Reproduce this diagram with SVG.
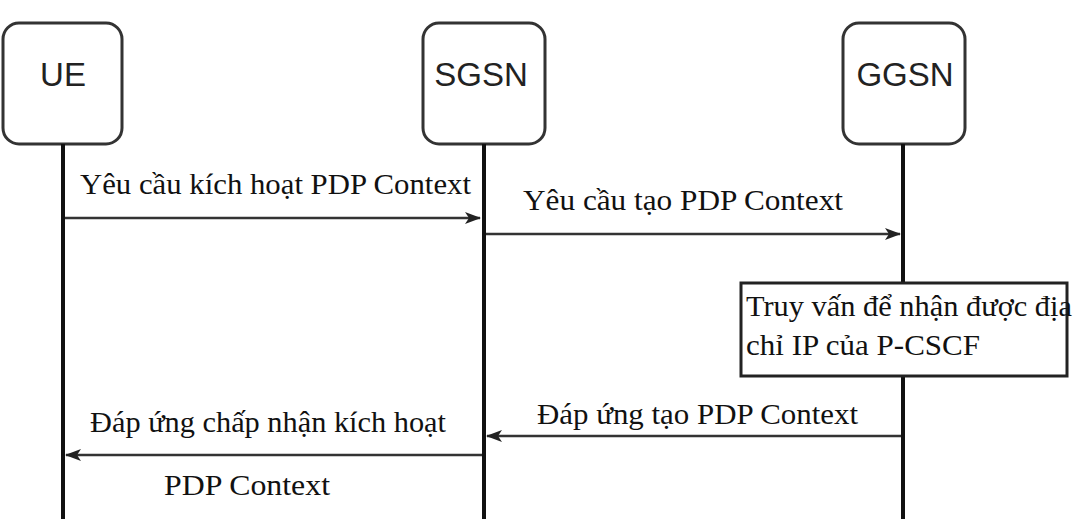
<svg xmlns="http://www.w3.org/2000/svg" width="1080" height="519" viewBox="0 0 1080 519">
<defs>
<style>
.node{fill:#fff;stroke:#333;stroke-width:3}
.lbl{font-family:"Liberation Sans",Arial,sans-serif;font-size:33px;fill:#222;text-anchor:middle}
.life{stroke:#111;stroke-width:4}
.msg{stroke:#333;stroke-width:2.5;fill:none}
.txt{font-family:"Liberation Serif","Times New Roman",serif;font-size:29px;fill:#111}
.note{fill:#fff;stroke:#222;stroke-width:3}
</style>
<marker id="arr" viewBox="0 0 16 12" refX="15" refY="6" markerWidth="16" markerHeight="12" markerUnits="userSpaceOnUse" orient="auto">
<path d="M0,0 L16,6 L0,12 L4,6 Z" fill="#222"/>
</marker>
</defs>
<rect width="1080" height="519" fill="#fff"/>
<g id="UE">
<rect class="node" x="3" y="23" width="119" height="121" rx="16"/>
<line class="life" x1="63" y1="144" x2="63" y2="519"/>
<text class="lbl" x="63" y="86">UE</text>
</g>
<g id="SGSN">
<rect class="node" x="423" y="23" width="122" height="121" rx="16"/>
<line class="life" x1="484" y1="144" x2="484" y2="519"/>
<text class="lbl" x="481" y="86">SGSN</text>
</g>
<g id="GGSN">
<rect class="node" x="843" y="23" width="122" height="121" rx="16"/>
<line class="life" x1="903" y1="144" x2="903" y2="519"/>
<text class="lbl" x="905" y="86">GGSN</text>
</g>
<g id="query">
<rect class="note" x="741" y="283" width="326" height="93"/>
<text class="txt" x="746" y="316" textLength="326" lengthAdjust="spacingAndGlyphs">Truy vấn để nhận được địa</text>
<text class="txt" x="746" y="355" textLength="234" lengthAdjust="spacingAndGlyphs">chỉ IP của P-CSCF</text>
</g>
<g id="connectors">
<line class="msg" x1="65" y1="218" x2="480" y2="218" marker-end="url(#arr)"/>
<text class="txt" x="80" y="194" textLength="391" lengthAdjust="spacingAndGlyphs">Yêu cầu kích hoạt PDP Context</text>
<line class="msg" x1="486" y1="234" x2="900" y2="234" marker-end="url(#arr)"/>
<text class="txt" x="523" y="210" textLength="320" lengthAdjust="spacingAndGlyphs">Yêu cầu tạo PDP Context</text>
<line class="msg" x1="901" y1="436" x2="487" y2="436" marker-end="url(#arr)"/>
<text class="txt" x="537" y="424" textLength="321" lengthAdjust="spacingAndGlyphs">Đáp ứng tạo PDP Context</text>
<line class="msg" x1="482" y1="455" x2="66" y2="455" marker-end="url(#arr)"/>
<text class="txt" x="90" y="432" textLength="356" lengthAdjust="spacingAndGlyphs">Đáp ứng chấp nhận kích hoạt</text>
<text class="txt" x="164" y="495" textLength="166" lengthAdjust="spacingAndGlyphs">PDP Context</text>
</g>
</svg>
